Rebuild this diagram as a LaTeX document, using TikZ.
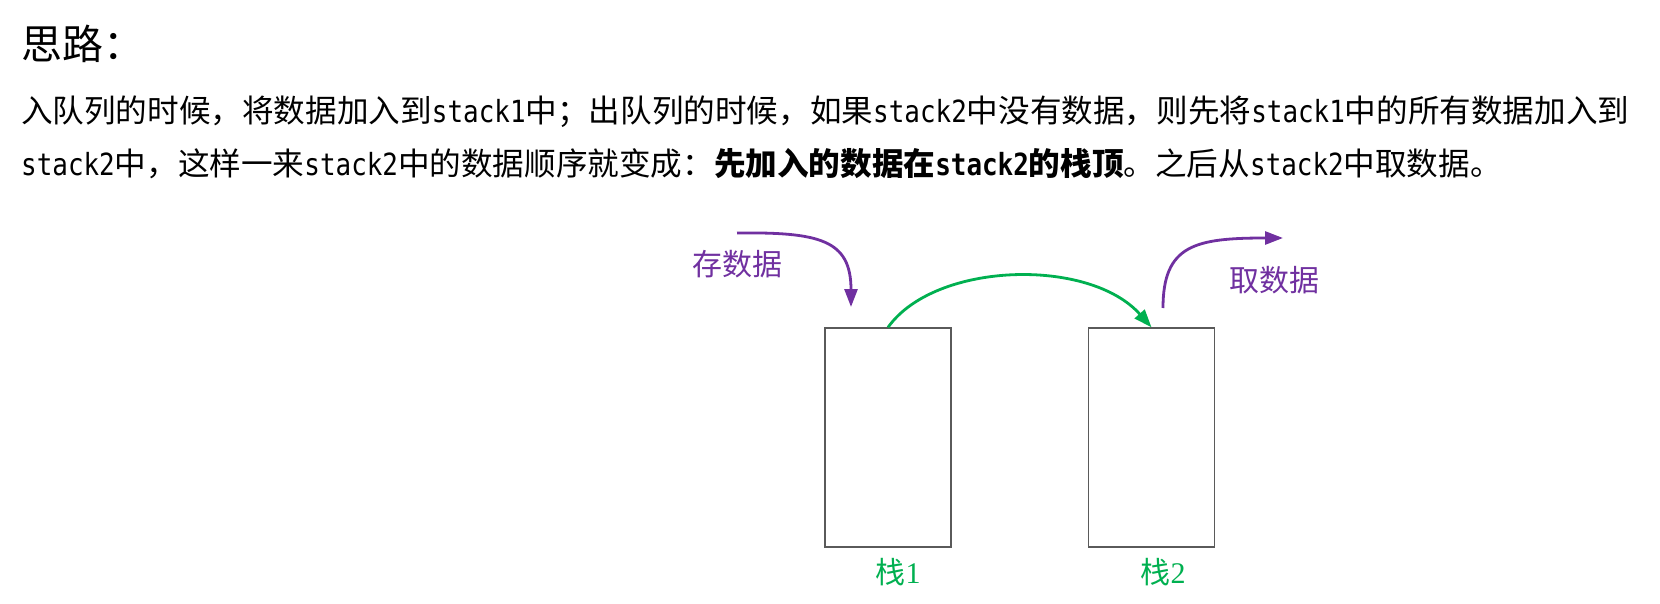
\documentclass[tikz,border=0pt]{standalone}
\usepackage{fontspec}
\setmainfont{Noto Sans CJK SC}
\newfontfamily\monofam[FakeStretch=0.85]{DejaVu Sans Mono}
\newfontfamily\seriffam{Liberation Serif}
\usetikzlibrary{arrows.meta}
\definecolor{arrowpurple}{HTML}{7030A0}
\definecolor{stackgreen}{HTML}{00B050}
\definecolor{boxgray}{HTML}{5A5A5A}
\newcommand{\lat}[1]{{\fontsize{30.5}{34}\selectfont\monofam #1}}
\tikzset{
  titletext/.style={anchor=base west, inner sep=0pt, font=\fontsize{41}{46}\selectfont},
  textline/.style={anchor=base west, inner sep=0pt, font=\fontsize{31.6}{38}\selectfont},
  stackbox/.style={draw=boxgray, line width=1.3pt, fill=white, inner sep=0pt, minimum width=126pt, minimum height=219pt},
  stacklabel/.style={anchor=base, inner sep=0pt, text=stackgreen, font=\fontsize{30}{34}\selectfont},
  purplelabel/.style={anchor=base, inner sep=0pt, text=arrowpurple, font=\fontsize{30}{34}\selectfont},
  purplearrow/.style={draw=arrowpurple, line width=2.8pt, -{Triangle[length=18pt,width=13pt]}},
  greenarrow/.style={draw=stackgreen, line width=2.8pt, -{Triangle[length=18pt,width=13pt]}}
}
\begin{document}
\begin{tikzpicture}[x=1pt,y=-1pt]
\useasboundingbox (0,0) rectangle (1660,604);
\fill[white] (0,0) rectangle (1660,604);

\node[titletext] (title) at (21,60) {思路：};
\node[textline] (line1) at (21,123) {入队列的时候，将数据加入到\lat{stack1}中；出队列的时候，如果\lat{stack2}中没有数据，则先将\lat{stack1}中的所有数据加入到};
\node[textline] (line2) at (21,176) {\lat{stack2}中，这样一来\lat{stack2}中的数据顺序就变成：\textbf{先加入的数据在\lat{stack2}的栈顶}。之后从\lat{stack2}中取数据。};

\node[stackbox] (s1) at (888,437.5) {};
\node[stackbox] (s2) at (1151.5,437.5) {};
\node[stacklabel] (l1) at (898,583) {栈{\seriffam 1}};
\node[stacklabel] (l2) at (1163,583) {栈{\seriffam 2}};

\coordinate (inStart) at (737,233);
\coordinate (inEnd) at (851,307);
\coordinate (outStart) at (1163,308);
\coordinate (outEnd) at (1283,238);

\draw[purplearrow] (inStart) .. controls (820,232) and (851,240) .. (inEnd);
\draw[purplearrow] (outStart) .. controls (1163,245) and (1195,238) .. (outEnd);
\draw[greenarrow] (s1.north) .. controls +(47,-66) and +(-62,-70) .. (s2.north);

\node[purplelabel] (inLabel) at (737,276) {存数据};
\node[purplelabel] (outLabel) at (1274,291) {取数据};
\end{tikzpicture}
\end{document}
